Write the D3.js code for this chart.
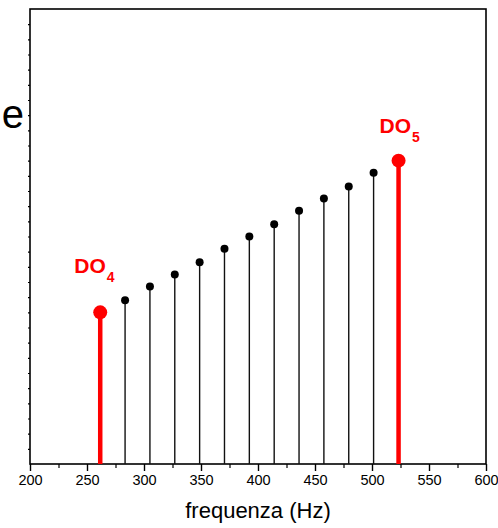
<!DOCTYPE html>
<html>
<head>
<meta charset="utf-8">
<script src="https://cdn.jsdelivr.net/npm/d3@7"></script>
<style>
  body { margin: 0; background: #fff; }
  text { font-family: "Liberation Sans", Arial, sans-serif; }
</style>
</head>
<body>
<div id="chart"></div>
<script>
// harmonic-ish ladder from DO4 to DO5
const freqs = [261.6, 283.4, 305.2, 327.0, 348.8, 370.6, 392.4, 414.2, 436.0, 457.8, 479.6, 501.4, 523.3];
const levels = [10, 10.8, 11.7, 12.5, 13.3, 14.2, 15.0, 15.8, 16.7, 17.5, 18.3, 19.2, 20];
const highlighted = [0, 12];
const noteNames = ["DO", "DO"];
const noteOctaves = ["4", "5"];
const xTicks = [200, 250, 300, 350, 400, 450, 500, 550, 600];

const width = 498, height = 528;
const margin = { top: 9, right: 12, bottom: 64, left: 30 };
const innerW = width - margin.left - margin.right;
const innerH = height - margin.top - margin.bottom;

const svg = d3.select("#chart").append("svg")
  .attr("width", width).attr("height", height);

const g = svg.append("g")
  .attr("transform", `translate(${margin.left},${margin.top})`);

const x = d3.scaleLinear().domain([200, 600]).range([0, innerW]);
const y = d3.scaleLinear().domain([0, 30]).range([innerH, 0]);

// minor x ticks
g.append("g").attr("transform", `translate(0,${innerH})`)
  .call(d3.axisBottom(x).tickValues(d3.range(225, 600, 50)).tickSize(4).tickFormat(""))
  .call(a => a.select(".domain").remove())
  .selectAll("line").attr("stroke-width", 1.2);

// major x ticks
const xa = g.append("g").attr("transform", `translate(0,${innerH})`)
  .call(d3.axisBottom(x).tickValues(xTicks).tickSize(7).tickPadding(4).tickFormat(d3.format("d")));
xa.select(".domain").remove();
xa.selectAll("line").attr("stroke-width", 1.4);
xa.selectAll("text").attr("font-size", 14.5).attr("fill", "#000")
  .style("font-family", "'Liberation Sans', Arial, sans-serif");

// y ticks, no labels
const ya = g.append("g")
  .call(d3.axisLeft(y).tickValues(d3.range(1, 30)).tickSize(2).tickFormat(""));
ya.select(".domain").remove();
ya.selectAll("line").attr("stroke-width", 1.2);

// frame
g.append("rect")
  .attr("width", innerW).attr("height", innerH)
  .attr("fill", "none").attr("stroke", "#000").attr("stroke-width", 1.6);

const data = freqs.map((f, i) => ({ f, v: levels[i], red: highlighted.includes(i) }));

g.selectAll(".stem").data(data).join("line")
  .attr("class", "stem")
  .attr("x1", d => x(d.f)).attr("x2", d => x(d.f))
  .attr("y1", y(0)).attr("y2", d => y(d.v))
  .attr("stroke", d => d.red ? "#ff0000" : "#111")
  .attr("stroke-width", d => d.red ? 4.5 : 1.4);

g.selectAll(".dot").data(data).join("circle")
  .attr("class", "dot")
  .attr("cx", d => x(d.f)).attr("cy", d => y(d.v))
  .attr("r", d => d.red ? 7 : 4)
  .attr("fill", d => d.red ? "#ff0000" : "#000");

// note labels
const labelOffsets = [[-26, -39], [-19, -28]];
highlighted.forEach((idx, k) => {
  const t = g.append("text")
    .attr("x", x(freqs[idx]) + labelOffsets[k][0])
    .attr("y", y(levels[idx]) + labelOffsets[k][1])
    .attr("fill", "#ff0000").attr("font-weight", "bold").attr("font-size", 21);
  t.append("tspan").text(noteNames[k]);
  t.append("tspan").attr("font-size", 14).attr("dy", 9).attr("dx", 1).text(noteOctaves[k]);
});

// axis title
svg.append("text")
  .attr("x", margin.left + innerW / 2).attr("y", 518)
  .attr("text-anchor", "middle").attr("font-size", 22)
  .text("frequenza (Hz)");

// clipped left label fragment
svg.append("text")
  .attr("x", 24).attr("y", 128)
  .attr("text-anchor", "end").attr("font-size", 40)
  .text("e");
</script>
</body>
</html>
